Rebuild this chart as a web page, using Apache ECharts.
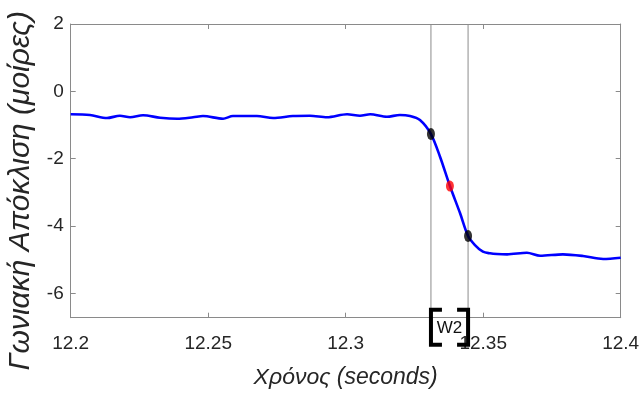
<!DOCTYPE html>
<html>
<head>
<meta charset="utf-8">
<script src="https://cdn.jsdelivr.net/npm/echarts@6/dist/echarts.min.js"></script>
<style>html,body{margin:0;padding:0;background:#fff}#c{width:642px;height:398px}</style>
</head>
<body>
<div id="c"></div>
<script>
// ---- data ----
const times = [12.2, 12.2070, 12.2132, 12.2179, 12.2216, 12.2263, 12.2325, 12.2387, 12.2445, 12.2481,
  12.2554, 12.2590, 12.2677, 12.2736, 12.2808, 12.2870, 12.2932, 12.3005, 12.3052, 12.3089,
  12.3150, 12.3197, 12.3234, 12.3270, 12.3310, 12.3343, 12.3379, 12.3416, 12.3445, 12.3470,
  12.3499, 12.3525, 12.3550, 12.3587, 12.3659, 12.3707, 12.3790, 12.3863, 12.3936, 12.4];
const angles = [-0.683, -0.704, -0.793, -0.725, -0.772, -0.713, -0.784, -0.814, -0.772, -0.734,
  -0.814, -0.734, -0.734, -0.793, -0.734, -0.725, -0.772, -0.683, -0.725, -0.683,
  -0.755, -0.704, -0.734, -0.853, -1.269, -1.943, -2.813, -3.624, -4.299, -4.566,
  -4.765, -4.813, -4.834, -4.843, -4.795, -4.884, -4.843, -4.893, -4.982, -4.944];
const windowBounds = [12.3310, 12.3445];
const boundValues = [-1.269, -4.299];
const midPoint = [12.3379, -2.813];
const windowLabel = 'W2';
const xTicks = [12.2, 12.25, 12.3, 12.35, 12.4];
const yTicks = [-6, -4, -2, 0, 2];
const xMin = 12.2, xMax = 12.4, yMin = -6.725, yMax = 2;

(function () {
const chart = echarts.init(document.getElementById('c'), null, {renderer: 'canvas'});
const FONT = '"Liberation Sans", Arial, sans-serif';
const axisCol = '#8a8a8a';
const txtCol = '#262626';

const lineData = times.map((t, i) => [t, angles[i]]);
const boundSeries = windowBounds.map(x => ({
  type: 'line', data: [[x, yMin], [x, yMax]], showSymbol: false, silent: true,
  lineStyle: {color: '#8c8c8c', width: 1}, z: 2
}));

chart.setOption({
  animation: false,
  grid: {left: 70.7, right: 21.3, top: 24, bottom: 80.3, containLabel: false, outerBoundsMode: 'none'},
  xAxis: [{
    type: 'value', min: xMin, max: xMax, interval: 0.05, position: 'bottom',
    name: 'Χρόνος (seconds)', nameLocation: 'middle', nameGap: 48,
    nameTextStyle: {fontFamily: FONT, fontSize: 23, fontStyle: 'italic', color: txtCol},
    axisLine: {show: true, onZero: false, lineStyle: {color: axisCol, width: 1}},
    axisTick: {show: true, inside: true, length: 5, lineStyle: {color: axisCol}},
    axisLabel: {fontFamily: FONT, fontSize: 19, color: txtCol, margin: 17,
      formatter: v => { const f = xTicks.find(t => Math.abs(t - v) < 1e-6); return f === undefined ? '' : String(f); }},
    splitLine: {show: false}
  }, {
    type: 'value', min: xMin, max: xMax, interval: 0.05, position: 'top',
    axisLine: {show: true, onZero: false, lineStyle: {color: axisCol, width: 1}},
    axisTick: {show: true, inside: true, length: 5, lineStyle: {color: axisCol}},
    axisLabel: {show: false}, splitLine: {show: false}
  }],
  yAxis: [{
    type: 'value', min: yMin, max: yMax, position: 'left',
    name: 'Γωνιακή Απόκλιση (μοίρες)', nameLocation: 'middle', nameGap: 32,
    nameTextStyle: {fontFamily: FONT, fontSize: 30, fontStyle: 'italic', color: txtCol, padding: [0, 40, 0, 0]},
    axisLine: {show: true, onZero: false, lineStyle: {color: axisCol, width: 1}},
    axisTick: {show: true, inside: true, length: 5, customValues: yTicks, lineStyle: {color: axisCol}},
    axisLabel: {fontFamily: FONT, fontSize: 19, color: txtCol, margin: 7, customValues: yTicks},
    splitLine: {show: false}
  }, {
    type: 'value', min: yMin, max: yMax, position: 'right',
    axisLine: {show: true, onZero: false, lineStyle: {color: axisCol, width: 1}},
    axisTick: {show: true, inside: true, length: 5, customValues: yTicks, lineStyle: {color: axisCol}},
    axisLabel: {show: false}, splitLine: {show: false}
  }],
  series: [{
    type: 'line', data: lineData, showSymbol: false, smooth: 0.3,
    lineStyle: {color: '#0000ff', width: 2.6}, z: 3
  }].concat(boundSeries, [{
    type: 'scatter', data: windowBounds.map((t, i) => [t, boundValues[i]]),
    symbol: 'circle', symbolSize: [8, 12], itemStyle: {color: '#000'}, z: 4
  }, {
    type: 'scatter', data: [midPoint],
    symbol: 'circle', symbolSize: [8, 11], itemStyle: {color: '#ff0000'}, z: 4
  }])
});

// W2 window brackets below the axis
const pL = chart.convertToPixel({xAxisIndex: 0, yAxisIndex: 0}, [windowBounds[0], yMin]);
const pR = chart.convertToPixel({xAxisIndex: 0, yAxisIndex: 0}, [windowBounds[1], yMin]);
const bTop = pL[1] - 8, bBot = pL[1] + 27, arm = 11;
const bs = {stroke: '#000', lineWidth: 4, fill: null, lineJoin: 'miter', lineCap: 'butt'};
chart.setOption({
  graphic: [
    {type: 'polyline', shape: {points: [[pL[0] + arm, bTop], [pL[0], bTop], [pL[0], bBot], [pL[0] + arm, bBot]]}, style: bs, z: 10},
    {type: 'polyline', shape: {points: [[pR[0] - arm, bTop], [pR[0], bTop], [pR[0], bBot], [pR[0] - arm, bBot]]}, style: bs, z: 10},
    {type: 'text', x: (pL[0] + pR[0]) / 2, y: (bTop + bBot) / 2 + 1,
      style: {text: windowLabel, font: '17px ' + FONT, fill: '#111', align: 'center', verticalAlign: 'middle'}, z: 11}
  ]
});
})();
</script>
</body>
</html>
